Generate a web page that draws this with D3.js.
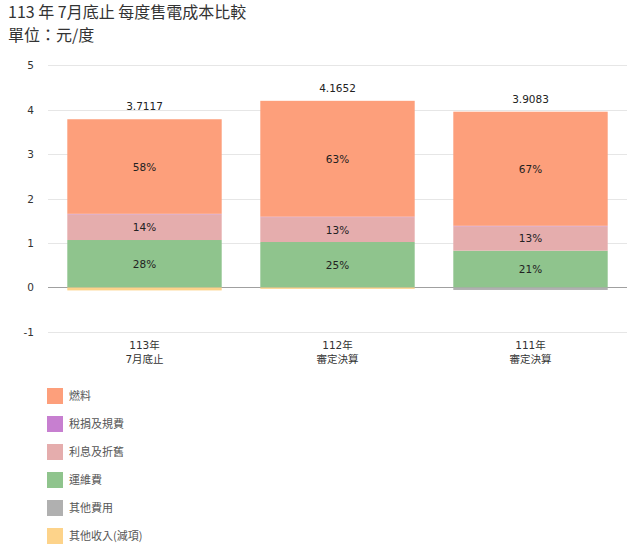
<!DOCTYPE html>
<html>
<head>
<meta charset="utf-8">
<script src="https://cdn.jsdelivr.net/npm/d3@7"></script>
<style>
  body { margin: 0; background: #fff; }
  svg { font-family: "Noto Sans CJK TC", "Noto Sans", sans-serif; }
  .num { font-family: "DejaVu Sans", "Noto Sans CJK TC", sans-serif; }
</style>
</head>
<body>
<svg id="chart" width="637" height="558"></svg>
<script>
// ---- data (元/度) ----
const categories = ['113年\n7月底止', '112年\n審定決算', '111年\n審定決算'];
const seriesNames = ['燃料', '稅捐及規費', '利息及折舊', '運維費', '其他費用', '其他收入(減項)'];
const seriesColors = ['#fd9f7b', '#c77fd0', '#e5adad', '#8fc48d', '#b0b0b0', '#fdd38a'];
const fuel = [2.13, 2.61, 2.57];
const tax = [0.01, 0.01, 0.01];
const interest = [0.58, 0.56, 0.55];
const ops = [1.065, 1.02, 0.825];
const otherCost = [0, 0, -0.06];
const otherIncome = [-0.07, -0.035, 0];
const totals = ['3.7117', '4.1652', '3.9083'];
const fuelPct = ['58%', '63%', '67%'];
const interestPct = ['14%', '13%', '13%'];
const opsPct = ['28%', '25%', '21%'];
const yTicks = [-1, 0, 1, 2, 3, 4, 5];

const svg = d3.select('#chart');
const margin = { left: 48, right: 10 };
const W = 637;

// title
svg.append('text').attr('x', 8).attr('y', 18)
    .attr('font-size', 16).attr('fill', '#333')
    .text('113 年 7月底止 每度售電成本比較');
svg.append('text').attr('x', 8).attr('y', 41)
    .attr('font-size', 16).attr('fill', '#333')
    .text('單位：元/度');

const x = d3.scaleBand().domain(categories)
    .range([margin.left, W - margin.right])
    .paddingInner(0.2).paddingOuter(0.1);
const y = d3.scaleLinear().domain([-1, 5]).range([331.7, 65.3]);

// grid
svg.append('g').selectAll('line').data(yTicks).join('line')
    .attr('x1', margin.left).attr('x2', W - margin.right)
    .attr('y1', d => Math.round(y(d)) + 0.5).attr('y2', d => Math.round(y(d)) + 0.5)
    .attr('stroke', d => d === 0 ? '#a0a0a0' : '#e6e6e6');

// y axis labels
svg.append('g').attr('class', 'num').selectAll('text').data(yTicks).join('text')
    .attr('x', 34).attr('y', d => y(d) + 4)
    .attr('text-anchor', 'end').attr('font-size', 10.5).attr('fill', '#333')
    .text(d => d);

// stack: positives upward from 0, negatives downward
const rows = categories.map((c, i) => ({
    cat: c,
    vals: [fuel[i], tax[i], interest[i], ops[i], otherCost[i], otherIncome[i]]
}));
const order = [5, 4, 3, 2, 1, 0]; // bottom to top
const segs = [];
rows.forEach((r, i) => {
    let pos = 0, neg = 0;
    order.forEach(k => {
        const v = r.vals[k];
        if (v === 0) return;
        if (v > 0) { segs.push({ i, k, y0: pos, y1: pos + v }); pos += v; }
        else { segs.push({ i, k, y0: neg + v, y1: neg }); neg += v; }
    });
    r.top = pos;
});

svg.append('g').selectAll('rect').data(segs).join('rect')
    .attr('x', d => x(categories[d.i]))
    .attr('width', x.bandwidth())
    .attr('y', d => y(d.y1))
    .attr('height', d => Math.max(0, y(d.y0) - y(d.y1)))
    .attr('fill', d => seriesColors[d.k]);

// percentage labels
const pctLabels = { 0: fuelPct, 2: interestPct, 3: opsPct };
svg.append('g').attr('class', 'num').selectAll('text')
    .data(segs.filter(d => pctLabels[d.k]))
    .join('text')
    .attr('x', d => x(categories[d.i]) + x.bandwidth() / 2)
    .attr('y', d => (y(d.y0) + y(d.y1)) / 2 + 4)
    .attr('text-anchor', 'middle').attr('font-size', 10.5).attr('fill', '#222')
    .text(d => pctLabels[d.k][d.i]);

// totals above bars
svg.append('g').attr('class', 'num').selectAll('text').data(rows).join('text')
    .attr('x', d => x(d.cat) + x.bandwidth() / 2)
    .attr('y', d => y(d.top) - 9)
    .attr('text-anchor', 'middle').attr('font-size', 10.5).attr('fill', '#222')
    .text((d, i) => totals[i]);

// x labels (two lines)
const xl = svg.append('g').attr('class', 'num').selectAll('text').data(categories).join('text')
    .attr('x', d => x(d) + x.bandwidth() / 2)
    .attr('y', 349)
    .attr('text-anchor', 'middle').attr('font-size', 10.5).attr('fill', '#333');
xl.selectAll('tspan').data(d => d.split('\n')).join('tspan')
    .attr('x', function () { return d3.select(this.parentNode).attr('x'); })
    .attr('dy', (d, i) => i ? 14 : 0)
    .text(d => d);

// legend
const lg = svg.append('g').selectAll('g').data(seriesNames).join('g')
    .attr('transform', (d, i) => `translate(47, ${388 + i * 28})`);
lg.append('rect').attr('width', 16).attr('height', 16)
    .attr('fill', (d, i) => seriesColors[i]);
lg.append('text').attr('x', 22).attr('y', 12)
    .attr('font-size', 11).attr('fill', '#555')
    .text(d => d);
</script>
</body>
</html>
